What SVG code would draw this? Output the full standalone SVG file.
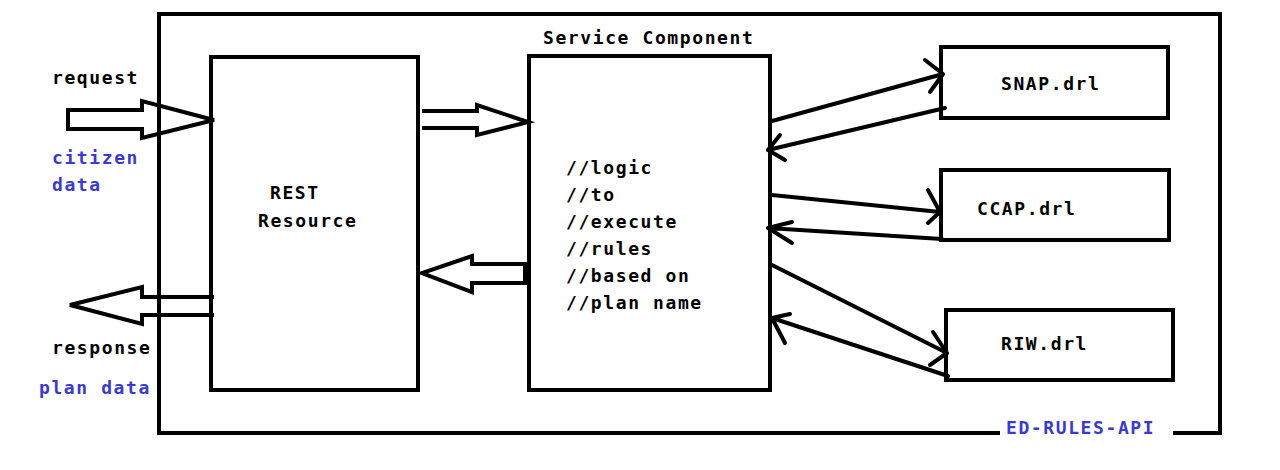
<svg xmlns="http://www.w3.org/2000/svg" width="1280" height="470" viewBox="0 0 1280 470">
<style>
.box{fill:none;stroke:#000;stroke-width:4}
.barrow{fill:none;stroke:#000;stroke-width:4;stroke-linejoin:miter}
.conn{fill:none;stroke:#000;stroke-width:4;stroke-linecap:round;stroke-linejoin:round}
text{font-family:"DejaVu Sans Mono","Liberation Mono",monospace;font-weight:bold;font-size:18px;letter-spacing:1.6px;fill:#000}
.blue{fill:#3a3ad0}
</style>
<rect width="1280" height="470" fill="#fff"/>
<g id="container">
<path class="box" d="M1000,433 L159,433 L159,14 L1220,14 L1220,433 L1173,433"/>
<text class="blue" x="1006" y="434">ED-RULES-API</text>
</g>
<g id="rest">
<rect class="box" x="211" y="57" width="207" height="333"/>
<text x="270" y="199">REST</text>
<text x="258" y="227">Resource</text>
</g>
<g id="service">
<rect class="box" x="529" y="56" width="241" height="334"/>
<text x="543" y="44">Service Component</text>
<text x="566" y="174">//logic</text>
<text x="566" y="201">//to</text>
<text x="566" y="228">//execute</text>
<text x="566" y="255">//rules</text>
<text x="566" y="282">//based on</text>
<text x="566" y="309">//plan name</text>
</g>
<g id="snap">
<rect class="box" x="941" y="47" width="227" height="71"/>
<text x="1001" y="90">SNAP.drl</text>
</g>
<g id="ccap">
<rect class="box" x="941" y="170" width="228" height="70"/>
<text x="977" y="215">CCAP.drl</text>
</g>
<g id="riw">
<rect class="box" x="946" y="310" width="227" height="70"/>
<text x="1001" y="350">RIW.drl</text>
</g>
<g id="labels">
<text x="52" y="84">request</text>
<text class="blue" x="52" y="164">citizen</text>
<text class="blue" x="52" y="191">data</text>
<text x="52" y="354">response</text>
<text class="blue" x="39" y="394">plan data</text>
</g>
<g id="connectors">
<path class="barrow" d="M68,110 L142,110 L142,101 L214,120 L142,138 L142,129 L68,129 Z"/>
<path class="barrow" d="M214,297 L142,297 L142,287 L70,305 L142,324 L142,315 L214,315"/>
<path class="barrow" d="M422,111 L477,111 L477,105 L528,122 L477,135 L477,128 L422,128"/>
<path class="barrow" d="M525,264 L472,264 L472,256 L422,273 L472,292 L472,283 L525,283 Z"/>
<path class="conn" d="M772,121 L943,74 M925,60 L943,74 L930,92"/>
<path class="conn" d="M945,108 L768,150 M780,135 L768,150 L785,160"/>
<path class="conn" d="M772,195 L940,212 M928,190 L940,212 L928,223"/>
<path class="conn" d="M942,239 L768,228 M792,222 L768,228 L792,243"/>
<path class="conn" d="M772,265 L947,353 M933,332 L947,353 L930,365"/>
<path class="conn" d="M948,376 L772,318 M790,314 L772,318 L785,343"/>
</g>
</svg>
